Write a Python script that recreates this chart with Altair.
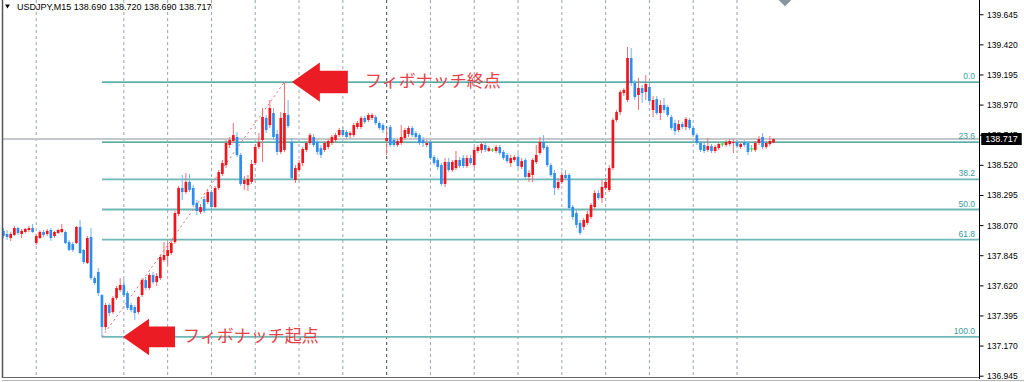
import altair as alt
import pandas as pd

# ---------------- data (USDJPY M15) ----------------
opens = [138.030, 138.007, 137.977, 138.000, 138.052, 138.007, 138.022, 138.037, 138.052, 137.940,
         137.977, 138.022, 138.007, 138.037, 137.992, 138.015, 138.022, 138.022, 137.947, 137.932,
         137.940, 138.060, 137.888, 137.791, 137.985, 137.678, 137.723, 137.551, 137.312, 137.477,
         137.424, 137.529, 137.589, 137.626, 137.566, 137.477, 137.462, 137.424, 137.551, 137.663,
         137.604, 137.701, 137.648, 137.678, 137.813, 137.843, 137.865, 137.947, 138.156, 138.351,
         138.321, 138.396, 138.351, 138.239, 138.171, 138.268, 138.246, 138.321, 138.209, 138.351,
         138.455, 138.522, 138.672, 138.702, 138.732, 138.597, 138.381, 138.373, 138.396, 138.537,
         138.657, 138.709, 138.874, 138.821, 138.911, 138.754, 138.620, 138.635, 138.896, 138.694,
         138.410, 138.485, 138.537, 138.635, 138.687, 138.732, 138.694, 138.649, 138.635, 138.657,
         138.687, 138.709, 138.746, 138.784, 138.769, 138.746, 138.746, 138.806, 138.806, 138.874,
         138.859, 138.874, 138.881, 138.836, 138.821, 138.702, 138.806, 138.709, 138.672, 138.687,
         138.724, 138.754, 138.799, 138.761, 138.746, 138.709, 138.672, 138.694, 138.582, 138.560,
         138.522, 138.381, 138.545, 138.485, 138.500, 138.560, 138.575, 138.515, 138.575, 138.522,
         138.627, 138.635, 138.672, 138.627, 138.635, 138.627, 138.657, 138.620, 138.597, 138.537,
         138.560, 138.582, 138.508, 138.560, 138.433, 138.448, 138.545, 138.612, 138.694, 138.657,
         138.522, 138.463, 138.351, 138.396, 138.448, 138.448, 138.209, 138.164, 138.090, 138.060,
         138.090, 138.134, 138.209, 138.313, 138.276, 138.351, 138.336, 138.500, 138.859, 138.918,
         139.060, 139.008, 139.322, 139.135, 139.045, 139.098, 139.068, 139.105, 138.933, 139.015,
         138.911, 138.971, 138.956, 138.881, 138.836, 138.784, 138.829, 138.806, 138.859, 138.799,
         138.746, 138.687, 138.672, 138.635, 138.664, 138.627, 138.649, 138.679, 138.672, 138.679,
         138.687, 138.694, 138.657, 138.694, 138.687, 138.642, 138.635, 138.687, 138.732, 138.657,
         138.679, 138.690]
closes = [137.992, 137.985, 138.007, 138.052, 138.015, 138.030, 138.045, 138.052, 138.022, 137.992,
          138.022, 138.000, 138.030, 137.977, 138.022, 138.037, 138.045, 137.940, 137.888, 137.888,
          138.060, 137.865, 137.798, 137.977, 137.678, 137.641, 137.566, 137.312, 137.477, 137.417,
          137.529, 137.604, 137.626, 137.551, 137.454, 137.439, 137.417, 137.536, 137.663, 137.604,
          137.701, 137.648, 137.693, 137.835, 137.850, 137.888, 137.940, 138.164, 138.351, 138.321,
          138.396, 138.336, 138.224, 138.179, 138.209, 138.179, 138.321, 138.209, 138.351, 138.470,
          138.537, 138.687, 138.709, 138.746, 138.597, 138.381, 138.410, 138.418, 138.530, 138.657,
          138.694, 138.881, 138.784, 138.948, 138.732, 138.620, 138.874, 138.911, 138.814, 138.425,
          138.500, 138.537, 138.642, 138.687, 138.746, 138.672, 138.620, 138.597, 138.687, 138.702,
          138.732, 138.746, 138.784, 138.746, 138.732, 138.761, 138.821, 138.836, 138.874, 138.844,
          138.896, 138.896, 138.836, 138.799, 138.784, 138.724, 138.672, 138.672, 138.702, 138.732,
          138.784, 138.799, 138.746, 138.732, 138.687, 138.687, 138.687, 138.575, 138.537, 138.508,
          138.381, 138.545, 138.485, 138.545, 138.560, 138.515, 138.515, 138.575, 138.537, 138.635,
          138.657, 138.679, 138.635, 138.649, 138.635, 138.657, 138.612, 138.575, 138.552, 138.575,
          138.582, 138.515, 138.552, 138.433, 138.463, 138.560, 138.597, 138.694, 138.649, 138.522,
          138.448, 138.351, 138.396, 138.448, 138.425, 138.201, 138.134, 138.075, 138.015, 138.112,
          138.156, 138.224, 138.313, 138.276, 138.358, 138.396, 138.500, 138.859, 138.918, 139.068,
          139.083, 139.322, 139.135, 139.030, 139.098, 139.060, 139.128, 139.001, 139.008, 138.911,
          138.971, 138.933, 138.896, 138.799, 138.776, 138.829, 138.806, 138.866, 138.799, 138.746,
          138.687, 138.635, 138.627, 138.664, 138.627, 138.657, 138.679, 138.679, 138.694, 138.702,
          138.694, 138.664, 138.679, 138.672, 138.620, 138.642, 138.687, 138.717, 138.657, 138.687,
          138.702, 138.717]
highs = [138.052, 138.037, 138.022, 138.067, 138.060, 138.045, 138.052, 138.067, 138.082, 138.007,
         138.037, 138.037, 138.045, 138.052, 138.030, 138.045, 138.082, 138.030, 137.962, 137.947,
         138.067, 138.112, 137.895, 137.992, 138.052, 137.693, 137.753, 137.559, 137.492, 137.492,
         137.544, 137.619, 137.678, 137.671, 137.581, 137.492, 137.477, 137.544, 137.678, 137.686,
         137.716, 137.723, 137.716, 137.850, 137.947, 137.940, 137.962, 138.179, 138.366, 138.448,
         138.463, 138.455, 138.373, 138.261, 138.231, 138.291, 138.336, 138.336, 138.366, 138.485,
         138.560, 138.709, 138.732, 138.836, 138.769, 138.612, 138.440, 138.448, 138.560, 138.679,
         138.761, 138.948, 138.896, 139.008, 138.948, 138.784, 138.918, 139.142, 139.008, 138.724,
         138.522, 138.560, 138.657, 138.702, 138.761, 138.754, 138.709, 138.672, 138.702, 138.717,
         138.746, 138.761, 138.799, 138.806, 138.784, 138.776, 138.836, 138.851, 138.888, 138.888,
         138.911, 138.911, 138.896, 138.851, 138.836, 138.799, 138.821, 138.724, 138.717, 138.821,
         138.799, 138.814, 138.814, 138.776, 138.761, 138.732, 138.709, 138.709, 138.597, 138.575,
         138.537, 138.575, 138.575, 138.560, 138.627, 138.582, 138.597, 138.597, 138.597, 138.657,
         138.672, 138.694, 138.687, 138.664, 138.649, 138.672, 138.672, 138.635, 138.612, 138.597,
         138.597, 138.612, 138.575, 138.575, 138.485, 138.575, 138.672, 138.732, 138.746, 138.672,
         138.537, 138.485, 138.425, 138.470, 138.485, 138.463, 138.224, 138.186, 138.112, 138.127,
         138.179, 138.239, 138.336, 138.336, 138.410, 138.425, 138.522, 138.874, 138.933, 139.083,
         139.098, 139.404, 139.396, 139.157, 139.172, 139.120, 139.195, 139.135, 139.038, 139.038,
         139.008, 139.023, 138.971, 138.896, 138.859, 138.859, 138.844, 138.881, 138.874, 138.814,
         138.761, 138.702, 138.687, 138.724, 138.679, 138.672, 138.694, 138.702, 138.709, 138.717,
         138.717, 138.709, 138.694, 138.709, 138.702, 138.672, 138.702, 138.739, 138.761, 138.702,
         138.739, 138.720]
lows = [137.977, 137.962, 137.955, 137.992, 138.000, 137.977, 138.015, 138.022, 138.015, 137.925,
        137.970, 137.985, 137.992, 137.955, 137.977, 138.007, 138.015, 137.932, 137.880, 137.873,
        137.932, 137.858, 137.783, 137.783, 137.663, 137.626, 137.544, 137.238, 137.290, 137.394,
        137.409, 137.514, 137.574, 137.536, 137.439, 137.424, 137.365, 137.409, 137.536, 137.589,
        137.589, 137.634, 137.619, 137.663, 137.798, 137.776, 137.850, 137.932, 138.141, 138.261,
        138.306, 138.321, 138.209, 138.149, 138.156, 138.164, 138.231, 138.186, 138.201, 138.336,
        138.440, 138.500, 138.649, 138.687, 138.582, 138.366, 138.336, 138.328, 138.381, 138.522,
        138.642, 138.545, 138.761, 138.799, 138.709, 138.597, 138.605, 138.620, 138.799, 138.410,
        138.388, 138.470, 138.515, 138.620, 138.672, 138.657, 138.597, 138.575, 138.620, 138.642,
        138.672, 138.694, 138.732, 138.732, 138.717, 138.724, 138.732, 138.791, 138.791, 138.829,
        138.844, 138.859, 138.821, 138.784, 138.761, 138.597, 138.657, 138.657, 138.657, 138.672,
        138.709, 138.732, 138.732, 138.717, 138.672, 138.657, 138.657, 138.560, 138.522, 138.485,
        138.366, 138.358, 138.470, 138.470, 138.485, 138.500, 138.500, 138.500, 138.522, 138.500,
        138.612, 138.612, 138.620, 138.620, 138.620, 138.612, 138.597, 138.560, 138.537, 138.508,
        138.545, 138.500, 138.493, 138.418, 138.396, 138.396, 138.530, 138.597, 138.635, 138.508,
        138.433, 138.298, 138.336, 138.381, 138.410, 138.186, 138.112, 138.052, 138.000, 138.037,
        138.075, 138.119, 138.194, 138.261, 138.239, 138.336, 138.321, 138.485, 138.844, 138.896,
        139.038, 138.993, 139.113, 139.008, 138.933, 138.986, 139.008, 138.986, 138.881, 138.896,
        138.859, 138.911, 138.881, 138.784, 138.746, 138.769, 138.791, 138.784, 138.784, 138.732,
        138.672, 138.620, 138.612, 138.620, 138.612, 138.612, 138.635, 138.657, 138.657, 138.664,
        138.612, 138.649, 138.642, 138.657, 138.597, 138.620, 138.620, 138.672, 138.642, 138.642,
        138.664, 138.690]

header_text = "USDJPY,M15  138.690 138.720 138.690 138.717"
current_price = 138.717
price_ticks = [136.945, 137.170, 137.395, 137.620, 137.845, 138.070, 138.295,
               138.520, 138.745, 138.970, 139.195, 139.420, 139.645]
grid_bars = [9, 33, 45, 57, 69, 81, 93, 117, 129, 141, 153, 165, 177, 189, 201]
grid_bars_dark = [105]
fib_start_bar = 27           # bar of the swing low (100 %)
fib_end_bar = 77             # bar of the swing high (0 %)
fib_ratios = [0.0, 23.6, 38.2, 50.0, 61.8, 100.0]
fib_labels = ["0.0", "23.6", "38.2", "50.0", "61.8", "100.0"]
fib_style = ["dark", "dark", "light", "light", "light", "light"]
note_texts = ["フィボナッチ終点", "フィボナッチ起点"]
note_bar = [99.1, 49.2]
arrow_bar = [86.7, 39.9]
arrow_size = [3136, 2704]

# ---------------- derived tables ----------------
W, H = 977, 377
X_DOM = [-0.384, 267.3]
Y_DOM = [136.939, 139.755]

n = len(closes)
direction = ["up" if c > o else ("down" if c < o else "doji") for o, c in zip(opens, closes)]
candles = pd.DataFrame({"bar": list(range(n)), "open": opens, "close": closes,
                        "high": highs, "low": lows, "dir": direction})

fib_high = highs[fib_end_bar]
fib_low = lows[fib_start_bar]
fib = pd.DataFrame({
    "level": [fib_high - r / 100.0 * (fib_high - fib_low) for r in fib_ratios],
    "label": fib_labels, "style": fib_style, "bar": fib_start_bar})
diag = pd.DataFrame({"bar": [fib_start_bar, fib_end_bar], "price": [fib_low, fib_high]})
notes = pd.DataFrame({"bar": note_bar, "price": [fib_high, fib_low], "text": note_texts,
                      "abar": arrow_bar, "size": arrow_size})
ticks_df = pd.DataFrame({"p": price_ticks})

xs = alt.Scale(domain=X_DOM, nice=False, zero=False)
ys = alt.Scale(domain=Y_DOM, nice=False, zero=False)
X = lambda f: alt.X(f, type="quantitative", scale=xs, axis=None)
Y = lambda f: alt.Y(f, type="quantitative", scale=ys, axis=None)

body_colors = alt.Scale(domain=["up", "down", "doji"], range=["#f0161c", "#2e8ef0", "#22cc22"])
wick_colors = alt.Scale(domain=["up", "down", "doji"], range=["#f36d70", "#72b2f2", "#55dd55"])

grid = alt.Chart(pd.DataFrame({"bar": grid_bars})).mark_rule(
    color="#9aa3ad", strokeDash=[3, 3], strokeWidth=1).encode(
    x=X("bar"), y=alt.value(0), y2=alt.value(H))
grid_dark = alt.Chart(pd.DataFrame({"bar": grid_bars_dark})).mark_rule(
    color="#5c6672", strokeDash=[3, 3], strokeWidth=1.2).encode(
    x=X("bar"), y=alt.value(0), y2=alt.value(H))

price_line = alt.Chart(pd.DataFrame({"p": [current_price]})).mark_rule(
    color="#c4c7cb", strokeWidth=2).encode(
    y=Y("p"), x=alt.value(0), x2=alt.value(W))

# right-hand price axis drawn as marks (ticks + labels)
axis_line = alt.Chart(pd.DataFrame({"t": [0]})).mark_rule(color="#000", strokeWidth=1).encode(
    x=alt.value(W + 0.5), y=alt.value(0), y2=alt.value(H + 2))
axis_ticks = alt.Chart(ticks_df).mark_rule(color="#000", strokeWidth=1).encode(
    x=alt.value(W + 0.5), x2=alt.value(W + 4.5), y=Y("p"))
axis_labels = alt.Chart(ticks_df).mark_text(
    align="left", baseline="middle", font="Liberation Sans", fontSize=8.5, color="#000").encode(
    x=alt.value(W + 8), y=Y("p"), text=alt.Text("p:Q", format=".3f"))

fib_lines = alt.Chart(fib).mark_rule().encode(
    x=X("bar"), x2=alt.value(W),
    y=Y("level"),
    color=alt.Color("style:N", scale=alt.Scale(domain=["dark", "light"],
                                               range=["#23918d", "#6fb8b5"]), legend=None),
    strokeWidth=alt.StrokeWidth("style:N", scale=alt.Scale(domain=["dark", "light"],
                                                           range=[1.2, 1.8]), legend=None))
fib_text = alt.Chart(fib).mark_text(
    align="right", baseline="bottom", dy=-1, font="Liberation Sans", fontSize=8.5,
    color="#3a9c9c").encode(x=alt.value(W - 4), y=Y("level"), text="label:N")

diag_line = alt.Chart(diag).mark_line(
    color="#f06a6a", strokeDash=[2, 3], strokeWidth=1).encode(
    x=X("bar"), y=Y("price"))

wicks = alt.Chart(candles).mark_rule(strokeWidth=1).encode(
    x=X("bar"), y=Y("low"), y2="high:Q",
    color=alt.Color("dir:N", scale=wick_colors, legend=None))
bodies = alt.Chart(candles).transform_filter(alt.datum.dir != "doji").transform_calculate(
    x1="datum.bar - 0.37", x2="datum.bar + 0.37").mark_rect().encode(
    x=X("x1"), x2="x2:Q", y=Y("open"), y2="close:Q",
    color=alt.Color("dir:N", scale=body_colors, legend=None))
dojis = alt.Chart(candles).transform_filter(alt.datum.dir == "doji").mark_tick(
    orient="horizontal", thickness=1.2, size=4, color="#22cc22").encode(
    x=X("bar"), y=Y("open"))

arrow_path = "M -1 0 L 0 -0.7 L 0 -0.4 L 1 -0.4 L 1 0.4 L 0 0.4 L 0 0.7 Z"
arrows = alt.Chart(notes).mark_point(
    shape=arrow_path, filled=True, color="#ec1c24", opacity=1, strokeWidth=0).encode(
    x=X("abar"), y=Y("price"),
    size=alt.Size("size:Q", scale=None, legend=None))
note_labels = alt.Chart(notes).mark_text(
    align="left", baseline="middle", font="Noto Sans CJK JP", fontSize=17,
    fontWeight="normal", color="#e8414a").encode(
    x=X("bar"), y=Y("price"), text="text:N")

hdr = alt.Chart(pd.DataFrame({"t": [header_text]})).mark_text(
    align="left", baseline="middle", font="Liberation Sans", fontSize=9, color="#000").encode(
    x=alt.value(15), y=alt.value(7), text="t:N")
hdr_tri = alt.Chart(pd.DataFrame({"t": [0]})).mark_point(
    shape="triangle-down", filled=True, color="#000", size=22, opacity=1).encode(
    x=alt.value(5.5), y=alt.value(6.5))
shift_mark = alt.Chart(pd.DataFrame({"t": [0]})).mark_point(
    shape="diamond", filled=True, color="#8a949e", size=160, opacity=1).encode(
    x=alt.value(783), y=alt.value(0))

box_path = "M -1 -0.3 L 1 -0.3 L 1 0.3 L -1 0.3 Z"
price_box = alt.Chart(pd.DataFrame({"p": [current_price]})).mark_point(
    shape=box_path, filled=True, color="#000", size=1640, opacity=1, strokeWidth=0).encode(
    x=alt.value(W + 22.5), y=Y("p"))
price_box_text = alt.Chart(pd.DataFrame({"p": [current_price]})).mark_text(
    align="center", baseline="middle", font="Liberation Sans", fontSize=9, color="#fff").encode(
    x=alt.value(W + 22.5), y=Y("p"), text=alt.Text("p:Q", format=".3f"))

frame_left = alt.Chart(pd.DataFrame({"t": [0]})).mark_rule(color="#555", strokeWidth=1.5).encode(
    x=alt.value(0.5), y=alt.value(0), y2=alt.value(H + 1))
frame_bottom = alt.Chart(pd.DataFrame({"t": [0]})).mark_rule(color="#666", strokeWidth=1).encode(
    x=alt.value(0), x2=alt.value(W), y=alt.value(H + 0.5))
frame_bottom2 = alt.Chart(pd.DataFrame({"t": [0]})).mark_rule(color="#b5b5b5", strokeWidth=1).encode(
    x=alt.value(0), x2=alt.value(W + 45), y=alt.value(H + 3.5))

chart = alt.layer(
    grid, grid_dark, price_line, fib_lines, fib_text, diag_line,
    wicks, bodies, dojis, arrows, note_labels, hdr, hdr_tri, shift_mark,
    axis_line, axis_ticks, axis_labels,
    price_box, price_box_text, frame_left, frame_bottom, frame_bottom2
).resolve_scale(color="independent", strokeWidth="independent").properties(
    width=W, height=H,
    padding={"left": 2, "top": 0, "right": 45, "bottom": 5},
    autosize=alt.AutoSizeParams(type="none"),
    background="#ffffff",
).configure_view(strokeWidth=0)

chart.save("out.html", embed_options={"renderer": "svg", "actions": False})
